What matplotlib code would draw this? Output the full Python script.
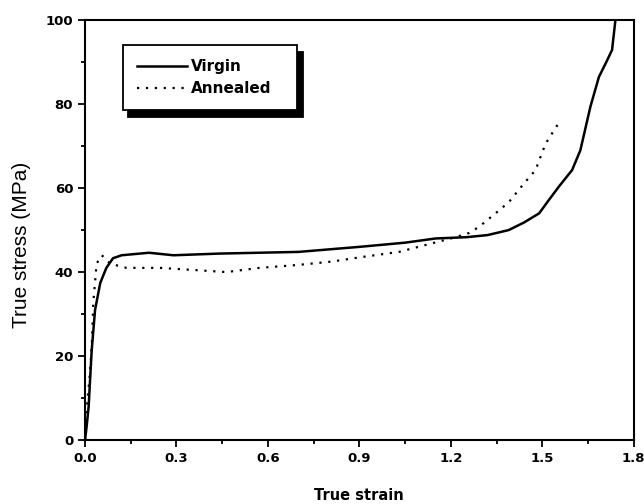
import numpy as np
import matplotlib.pyplot as plt

plt.rcParams['font.family'] = ['DejaVu Sans']

# Virgin sample (solid line)
virgin_strain = [0.0, 0.005, 0.012, 0.016, 0.022, 0.033, 0.05, 0.07, 0.092, 0.12, 0.21, 0.29,
                 0.44, 0.70, 0.90, 1.05, 1.15, 1.25, 1.32, 1.39, 1.44, 1.49, 1.52, 1.554, 1.598,
                 1.625, 1.658, 1.686, 1.71, 1.729, 1.74]
virgin_stress = [0.0, 3.0, 8.0, 13.5, 21.4, 31.0, 37.4, 41.0, 43.3, 44.0, 44.6, 44.0,
                 44.4, 44.8, 46.0, 47.0, 48.0, 48.3, 48.8, 50.0, 51.8, 54.0, 57.0, 60.3, 64.3,
                 69.0, 79.4, 86.5, 90.0, 92.9, 100.0]

# Annealed sample (dotted line)
annealed_strain = [0.0, 0.005, 0.015, 0.022, 0.027, 0.038, 0.055, 0.07, 0.082, 0.136, 0.245,
                   0.355, 0.464, 0.573, 0.70, 0.81, 0.91, 1.03, 1.12, 1.20, 1.26, 1.293,
                   1.347, 1.391, 1.44, 1.478, 1.511, 1.56]
annealed_stress = [0.0, 7.0, 15.0, 22.0, 32.5, 42.0, 44.0, 43.0, 42.0, 41.0, 41.0,
                   40.5, 40.0, 41.0, 41.7, 42.5, 43.6, 44.8, 46.5, 48.0, 49.3, 50.8,
                   54.0, 56.7, 61.1, 64.3, 70.6, 76.2]

fig = plt.figure(figsize=(6.44, 5.04), dpi=100)
ax = fig.add_axes([0.132, 0.127, 0.852, 0.833])

ax.plot(virgin_strain, virgin_stress, 'k-', lw=1.8, label='Virgin')
ax.plot(annealed_strain, annealed_stress, color='k', ls=(0, (1, 3)), lw=1.6, label='Annealed')

ax.set_xlim(0, 1.8)
ax.set_ylim(0, 100)
ax.set_xticks(np.arange(0, 1.81, 0.3))
ax.set_xticks(np.arange(0.15, 1.8, 0.3), minor=True)
ax.set_yticks(np.arange(0, 101, 20))
ax.set_yticks(np.arange(10, 100, 20), minor=True)
ax.set_xticklabels(['0.0', '0.3', '0.6', '0.9', '1.2', '1.5', '1.8'])
ax.tick_params(which='major', direction='out', length=5, width=1.3, labelsize=9.5)
ax.tick_params(which='minor', direction='out', length=3, width=1.3)
for lab in ax.get_xticklabels() + ax.get_yticklabels():
    lab.set_fontweight('bold')
for s in ax.spines.values():
    s.set_linewidth(1.5)

ax.set_xlabel('True strain', fontsize=10.5, fontweight='bold', labelpad=17)
ax.set_ylabel('True stress (MPa)', fontsize=15, family='Liberation Sans')
ax.yaxis.set_label_coords(-0.098, 0.464)

leg = ax.legend(loc='upper left', bbox_to_anchor=(0.069, 0.940, 0.318, 0), mode='expand',
                borderaxespad=0, fancybox=False, edgecolor='k', framealpha=1,
                prop={'size': 11, 'weight': 'bold'},
                handlelength=3.3, borderpad=0.9, labelspacing=0.45, handletextpad=0.25,
                shadow={'color': 'black', 'alpha': 1, 'ox': 4, 'oy': -5})
leg.get_frame().set_linewidth(1.3)

plt.savefig('out.png', dpi=100)
